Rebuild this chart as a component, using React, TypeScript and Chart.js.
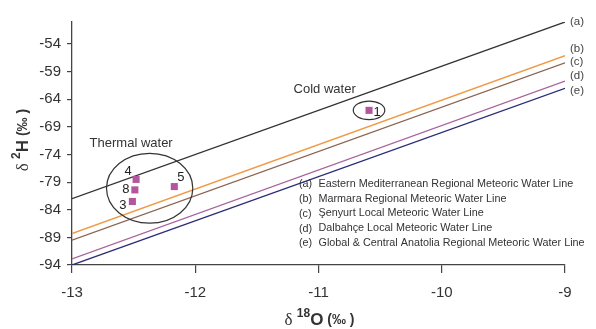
import React, { useEffect, useRef } from 'react';
import { Chart, registerables } from 'chart.js';
Chart.register(...registerables);

const X_TICKS = [-13, -12, -11, -10, -9];
const Y_TICKS = [-94, -89, -84, -79, -74, -69, -64, -59, -54];
const X_MIN = -13;
const X_MAX = -9;
const Y_MIN = -94;
const Y_MAX = -50;

const LINE_X = [-13, -9];
const LINE_A = [-82, -50];
const LINE_B = [-88.3, -56.1];
const LINE_C = [-89.5, -57.4];
const LINE_D = [-92.9, -60.7];
const LINE_E = [-94, -62];
const LINE_TAGS = ['(a)', '(b)', '(c)', '(d)', '(e)'];
const LINE_TAG_Y = [-50, -54.9, -57.3, -59.8, -62.4];
const LINE_NAMES = [
  'Eastern Mediterranean Regional Meteoric Water Line',
  'Marmara Regional Meteoric Water Line',
  'Şenyurt Local Meteoric Water Line',
  'Dalbahçe Local Meteoric Water Line',
  'Global & Central Anatolia Regional Meteoric Water Line',
];
const LINE_COLORS = ['#333333', '#f09a45', '#8a6452', '#a8629c', '#2c2c78'];

const SAMPLE_IDS = ['1', '4', '8', '3', '5'];
const SAMPLE_X = [-10.59, -12.48, -12.49, -12.51, -12.17];
const SAMPLE_Y = [-66.0, -78.5, -80.4, -82.5, -79.8];

// groups: label, centre x, centre y, half width (x units), half height (y units)
const GROUP_NAMES = ['Cold water', 'Thermal water'];
const GROUP_CX = [-10.59, -12.37];
const GROUP_CY = [-66.0, -80.1];
const GROUP_RX = [0.128, 0.35];
const GROUP_RY = [1.68, 6.33];
const GROUP_LABEL_X = [-10.95, -12.52];
const GROUP_LABEL_Y = [-62.2, -71.9];

const FONT = '"Liberation Sans", Arial, sans-serif';

type Part = { text: string; font: string; dy: number };

function drawRich(ctx: CanvasRenderingContext2D, parts: Part[], cx: number, cy: number, rot: number) {
  ctx.save();
  ctx.translate(cx, cy);
  ctx.rotate(rot);
  let total = 0;
  const widths = parts.map((p) => {
    ctx.font = p.font;
    const w = ctx.measureText(p.text).width;
    total += w;
    return w;
  });
  let x = -total / 2;
  ctx.textBaseline = 'middle';
  ctx.textAlign = 'left';
  ctx.fillStyle = '#333';
  parts.forEach((p, i) => {
    ctx.font = p.font;
    ctx.fillText(p.text, x, p.dy);
    x += widths[i];
  });
  ctx.restore();
}

const annotPlugin = {
  id: 'annot',
  afterDatasetsDraw(chart: any) {
    const ctx: CanvasRenderingContext2D = chart.ctx;
    const xs = chart.scales.x;
    const ys = chart.scales.y;
    const area = chart.chartArea;
    ctx.save();
    // ellipses
    ctx.strokeStyle = '#333';
    ctx.lineWidth = 1.2;
    GROUP_NAMES.forEach((name, i) => {
      const cx = xs.getPixelForValue(GROUP_CX[i]);
      const cy = ys.getPixelForValue(GROUP_CY[i]);
      const rx = Math.abs(xs.getPixelForValue(GROUP_CX[i] + GROUP_RX[i]) - cx);
      const ry = Math.abs(ys.getPixelForValue(GROUP_CY[i] + GROUP_RY[i]) - cy);
      ctx.beginPath();
      ctx.ellipse(cx, cy, rx, ry, 0, 0, Math.PI * 2);
      ctx.stroke();
      ctx.fillStyle = '#333';
      ctx.font = '13px ' + FONT;
      ctx.textAlign = 'center';
      ctx.textBaseline = 'middle';
      ctx.fillText(name, xs.getPixelForValue(GROUP_LABEL_X[i]), ys.getPixelForValue(GROUP_LABEL_Y[i]));
    });
    // sample labels
    const offs: Record<string, [number, number]> = {
      '1': [8, 2.5],
      '4': [-8, -7.5],
      '8': [-9, 0],
      '3': [-9.5, 3.6],
      '5': [6.6, -9],
    };
    ctx.font = '13px ' + FONT;
    ctx.fillStyle = '#222';
    ctx.textAlign = 'center';
    ctx.textBaseline = 'middle';
    SAMPLE_IDS.forEach((id, i) => {
      const px = xs.getPixelForValue(SAMPLE_X[i]);
      const py = ys.getPixelForValue(SAMPLE_Y[i]);
      const o = offs[id] || [0, 0];
      ctx.fillText(id, px + o[0], py + o[1]);
    });
    // line tags on right
    ctx.font = '11.5px ' + FONT;
    ctx.fillStyle = '#444';
    ctx.textAlign = 'left';
    LINE_TAGS.forEach((t, i) => {
      ctx.fillText(t, area.right + 5, ys.getPixelForValue(LINE_TAG_Y[i]));
    });
    // legend text block
    ctx.font = '10.8px ' + FONT;
    ctx.fillStyle = '#333';
    LINE_TAGS.forEach((t, i) => {
      const y = area.top + 162 + i * 14.7;
      ctx.fillText(t, area.left + 227, y + 0.5);
      ctx.fillText(LINE_NAMES[i], area.left + 246.5, y);
    });
    // axis titles
    const xc = (area.left + area.right) / 2 + 1;
    drawRich(
      ctx,
      [
        { text: 'δ ', font: '17px "Liberation Serif", serif', dy: 1 },
        { text: '18', font: 'bold 12px ' + FONT, dy: -6 },
        { text: 'O', font: 'bold 17px ' + FONT, dy: 0 },
        { text: ' (‰ )', font: 'bold 14px ' + FONT, dy: 0 },
      ],
      xc,
      320,
      0
    );
    drawRich(
      ctx,
      [
        { text: 'δ ', font: '17px "Liberation Serif", serif', dy: 1 },
        { text: '2', font: 'bold 12px ' + FONT, dy: -6 },
        { text: 'H', font: 'bold 17px ' + FONT, dy: 0 },
        { text: ' (‰ )', font: 'bold 14px ' + FONT, dy: 0 },
      ],
      23,
      140,
      -Math.PI / 2
    );
    ctx.restore();
  },
};

export default function App() {
  const ref = useRef<HTMLCanvasElement | null>(null);
  useEffect(() => {
    document.body.style.margin = '0';
    const lines = [LINE_A, LINE_B, LINE_C, LINE_D, LINE_E];
    const datasets: any[] = lines.map((ys, i) => ({
      type: 'line',
      label: LINE_TAGS[i],
      data: LINE_X.map((x, j) => ({ x, y: ys[j] })),
      borderColor: LINE_COLORS[i],
      borderWidth: 1.3,
      pointRadius: 0,
      fill: false,
      tension: 0,
      order: 2,
    }));
    datasets.push({
      type: 'scatter',
      label: 'samples',
      data: SAMPLE_X.map((x, i) => ({ x, y: SAMPLE_Y[i] })),
      pointStyle: 'rect',
      pointRadius: 5,
      backgroundColor: '#b4569e',
      borderColor: '#b4569e',
      borderWidth: 0,
      order: 1,
    });
    const chart = new Chart(ref.current as HTMLCanvasElement, {
      type: 'scatter',
      data: { datasets },
      plugins: [annotPlugin],
      options: {
        animation: false,
        responsive: false,
        layout: { padding: { top: 22, right: 31, left: 0, bottom: 0 } },
        plugins: { legend: { display: false }, tooltip: { enabled: false } },
        scales: {
          x: {
            type: 'linear',
            min: X_MIN,
            max: X_MAX,
            afterBuildTicks: (s: any) => {
              s.ticks = X_TICKS.map((v) => ({ value: v }));
            },
            afterFit: (s: any) => {
              s.height = 64;
            },
            grid: { drawOnChartArea: false, drawTicks: true, tickLength: 8, color: '#444', lineWidth: 1.2 },
            border: { display: true, color: '#444', width: 1.3 },
            ticks: { color: '#333', font: { family: FONT, size: 15 }, padding: 11, maxRotation: 0 },
          },
          y: {
            type: 'linear',
            min: Y_MIN,
            max: Y_MAX,
            afterBuildTicks: (s: any) => {
              s.ticks = Y_TICKS.map((v) => ({ value: v }));
            },
            afterFit: (s: any) => {
              s.width = 72;
            },
            grid: { drawOnChartArea: false, drawTicks: true, tickLength: 5, color: '#444', lineWidth: 1.2 },
            border: { display: true, color: '#444', width: 1.3 },
            ticks: { color: '#333', font: { family: FONT, size: 15 }, padding: 6 },
          },
        },
      } as any,
    });
    return () => chart.destroy();
  }, []);
  return (
    <div style={{ width: 596, height: 329 }}>
      <canvas ref={ref} width={596} height={329} />
    </div>
  );
}
